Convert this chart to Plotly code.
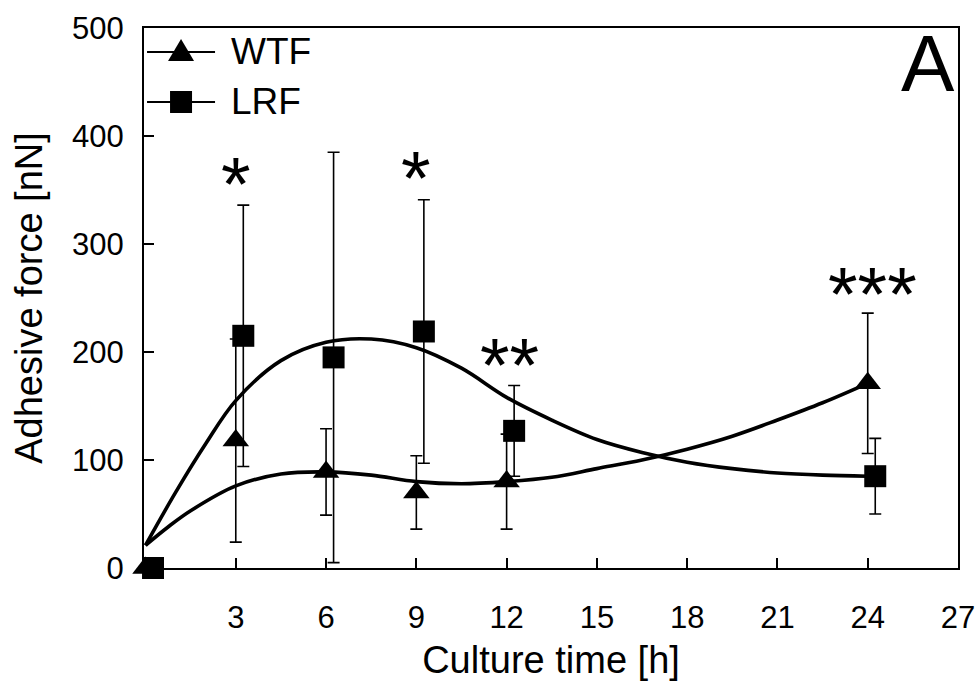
import plotly.graph_objects as go

# ---- data ----
wtf_x = [0, 3, 6, 9, 12, 24]
wtf_mean = [0, 118, 89, 70, 80, 171]
wtf_sd = [0, 94, 40, 34, 44, 65]

lrf_x = [0.25, 3.25, 6.25, 9.25, 12.25, 24.25]
lrf_mean = [0, 215, 195, 219, 127, 85]
lrf_sd = [0, 121, 190, 122, 42, 35]

# fitted curves (smoothed by plotly spline)
wtf_fit_x = [0, 0.75, 1.5, 3, 4.5, 6, 7.5, 9, 10.5, 12, 13.5, 15, 16.5, 18, 19.5, 21, 22.5, 24]
wtf_fit_y = [21, 38, 53, 76, 87, 89, 86, 80, 78, 80, 84, 92, 100, 110, 122, 137, 153, 171]

lrf_fit_x = [0, 1, 2, 3, 4.5, 6, 7.5, 9, 10.5, 12, 13.5, 15, 16.5, 18, 19.5, 21, 22.5, 24]
lrf_fit_y = [21, 70, 115, 155, 192, 209, 212, 204, 185, 158, 137, 119, 107, 98, 92, 88, 86, 85]

x_ticks = [3, 6, 9, 12, 15, 18, 21, 24, 27]
y_ticks = [0, 100, 200, 300, 400, 500]

sig_labels = ["*", "*", "**", "***"]
sig_x = [3.0, 9.0, 12.1, 24.15]
sig_y = [367, 373, 200, 265]

legend_names = ["WTF", "LRF"]

FONT = "Liberation Sans, Arial, sans-serif"
BLACK = "#000000"

fig = go.Figure()

# curves
for fx, fy in [(wtf_fit_x, wtf_fit_y), (lrf_fit_x, lrf_fit_y)]:
    fig.add_trace(go.Scatter(x=fx, y=fy, mode="lines",
                             line=dict(color=BLACK, width=3.6, shape="spline", smoothing=1.0),
                             showlegend=False, hoverinfo="skip"))

# data points with error bars
fig.add_trace(go.Scatter(x=wtf_x, y=wtf_mean, mode="markers", name="WTF",
                         marker=dict(symbol="triangle-up", size=23, color=BLACK),
                         error_y=dict(type="data", array=wtf_sd, visible=True,
                                      color=BLACK, thickness=1.6, width=6),
                         cliponaxis=False, showlegend=False))
fig.add_trace(go.Scatter(x=lrf_x, y=lrf_mean, mode="markers", name="LRF",
                         marker=dict(symbol="square", size=22, color=BLACK),
                         error_y=dict(type="data", array=lrf_sd, visible=True,
                                      color=BLACK, thickness=1.6, width=6),
                         cliponaxis=False, showlegend=False))

# significance asterisks
for lab, xx, yy in zip(sig_labels, sig_x, sig_y):
    fig.add_annotation(x=xx, y=yy, text=lab, showarrow=False,
                       font=dict(family=FONT, size=76, color=BLACK),
                       xanchor="center", yanchor="middle", yshift=-12)

# panel letter
fig.add_annotation(x=0.999, y=1.021, xref="paper", yref="paper", text="A",
                   showarrow=False, xanchor="right", yanchor="top",
                   font=dict(family=FONT, size=80, color=BLACK))

# hand-drawn legend (line + symbol + label)
leg_cx = 0.0455
leg_rows = [0.9556, 0.863]
tri_path = "M -13 -9 L 13 -9 L 0 13 Z"
sq_path = "M -11 -11 L 11 -11 L 11 11 L -11 11 Z"
for name, ry, p in zip(legend_names, leg_rows, [tri_path, sq_path]):
    fig.add_shape(type="line", xref="paper", yref="paper",
                  xsizemode="pixel", ysizemode="pixel", xanchor=leg_cx, yanchor=ry,
                  x0=-34, x1=34, y0=0, y1=0, line=dict(color=BLACK, width=2))
    fig.add_shape(type="path", xref="paper", yref="paper",
                  xsizemode="pixel", ysizemode="pixel", xanchor=leg_cx, yanchor=ry,
                  path=p, fillcolor=BLACK, line=dict(color=BLACK, width=0))
    fig.add_annotation(x=0.1045, y=ry, xref="paper", yref="paper", text=name,
                       showarrow=False, xanchor="left", yanchor="middle",
                       font=dict(family=FONT, size=37, color=BLACK))

fig.update_layout(
    width=976, height=686,
    margin=dict(l=144, r=18, t=28, b=118),
    paper_bgcolor="white", plot_bgcolor="white",
    font=dict(family=FONT, color=BLACK),
    showlegend=False,
)

fig.update_xaxes(range=[-0.05, 27], tickvals=x_ticks, ticktext=[str(v) for v in x_ticks],
                 ticks="inside", ticklen=10, tickwidth=2, tickcolor=BLACK,
                 showline=True, linewidth=2, linecolor=BLACK, mirror=True,
                 showgrid=False, zeroline=False, automargin=False,
                 tickfont=dict(family=FONT, size=31, color=BLACK), ticklabelstandoff=21,
                 title=dict(text="Culture time [h]", font=dict(family=FONT, size=38, color=BLACK),
                            standoff=12))
fig.update_yaxes(range=[0, 500], tickvals=y_ticks, ticktext=[str(v) for v in y_ticks],
                 ticks="inside", ticklen=10, tickwidth=2, tickcolor=BLACK,
                 showline=True, linewidth=2, linecolor=BLACK, mirror=True,
                 showgrid=False, zeroline=False, automargin=False,
                 tickfont=dict(family=FONT, size=31, color=BLACK), ticklabelstandoff=12,
                 title=dict(text="Adhesive force [nN]", font=dict(family=FONT, size=38, color=BLACK),
                            standoff=18))

fig.write_html("out.html", config={"displayModeBar": False},
               post_script="document.body.style.margin='0px';")
